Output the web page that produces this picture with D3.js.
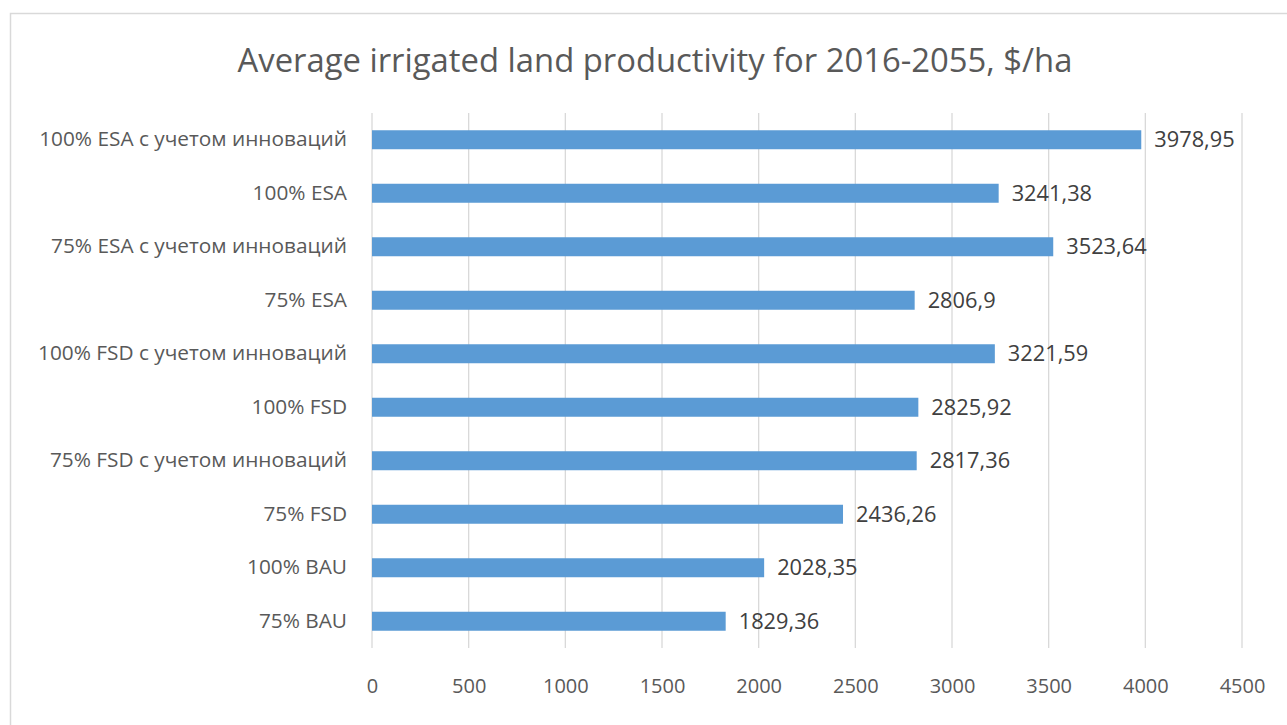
<!DOCTYPE html>
<html>
<head>
<meta charset="utf-8">
<script src="https://cdn.jsdelivr.net/npm/d3@7"></script>
<style>
  html, body { margin: 0; padding: 0; background: #ffffff; }
  svg { display: block; }
</style>
</head>
<body>
<svg id="chart" width="1287" height="725"></svg>
<script>
// Scenario names, top to bottom
const categories = [
  "100% ESA с учетом инноваций",
  "100% ESA",
  "75% ESA с учетом инноваций",
  "75% ESA",
  "100% FSD с учетом инноваций",
  "100% FSD",
  "75% FSD с учетом инноваций",
  "75% FSD",
  "100% BAU",
  "75% BAU"
];
// Average productivity, $/ha
const values = [3978.95, 3241.38, 3523.64, 2806.9, 3221.59, 2825.92, 2817.36, 2436.26, 2028.35, 1829.36];
const xTicks = [0, 500, 1000, 1500, 2000, 2500, 3000, 3500, 4000, 4500];
const title = "Average irrigated land productivity for 2016-2055, $/ha";

const svg = d3.select("#chart");
const W = 1287, H = 725;
const font = "'Open Sans', 'Noto Sans', sans-serif";

// Chart frame
svg.append("rect")
  .attr("x", 10.5).attr("y", 13.5)
  .attr("width", W + 20).attr("height", H + 20)
  .attr("fill", "#ffffff")
  .attr("stroke", "#d9d9d9").attr("stroke-width", 1.5);

const plot = { left: 372, right: 1242, top: 113, bottom: 648 };

const x = d3.scaleLinear().domain([0, 4500]).range([plot.left, plot.right]);
const y = d3.scaleBand().domain(categories).range([plot.top, plot.bottom]).paddingInner(0.645).paddingOuter(0.3225);

// Title
svg.append("text")
  .attr("x", 655).attr("y", 72)
  .attr("text-anchor", "middle")
  .attr("font-family", font).attr("font-size", 32.8)
  .attr("fill", "#595959")
  .text(title);

// Vertical gridlines
svg.append("g").selectAll("line").data(xTicks).join("line")
  .attr("x1", d => x(d)).attr("x2", d => x(d))
  .attr("y1", plot.top).attr("y2", plot.bottom)
  .attr("stroke", "#d9d9d9").attr("stroke-width", 1.3);

// Bottom tick labels
const xAxis = d3.axisBottom(x).tickValues(xTicks).tickSize(0).tickPadding(0).tickFormat(d3.format("d"));
const gx = svg.append("g").attr("transform", `translate(0, ${plot.bottom + 31})`).call(xAxis);
gx.select(".domain").remove();
gx.selectAll("text")
  .attr("font-family", font).attr("font-size", 20)
  .attr("fill", "#595959");

// Category labels
const yAxis = d3.axisLeft(y).tickSize(0).tickPadding(0);
const gy = svg.append("g").attr("transform", `translate(${plot.left - 25}, 0)`).call(yAxis);
gy.select(".domain").remove();
gy.selectAll("text")
  .attr("font-family", font).attr("font-size", 20.8)
  .attr("fill", "#595959");

// Bars
svg.append("g").selectAll("rect").data(values).join("rect")
  .attr("x", x(0))
  .attr("y", (d, i) => y(categories[i]))
  .attr("width", d => x(d) - x(0))
  .attr("height", y.bandwidth())
  .attr("fill", "#5b9bd5");

// Value labels
const fmt = v => String(v).replace(".", ",");
svg.append("g").selectAll("text").data(values).join("text")
  .attr("x", d => x(d) + 13)
  .attr("y", (d, i) => y(categories[i]) + y.bandwidth() / 2)
  .attr("dy", "0.35em")
  .attr("font-family", font).attr("font-size", 21.8)
  .attr("fill", "#404040")
  .text(d => fmt(d));
</script>
</body>
</html>
